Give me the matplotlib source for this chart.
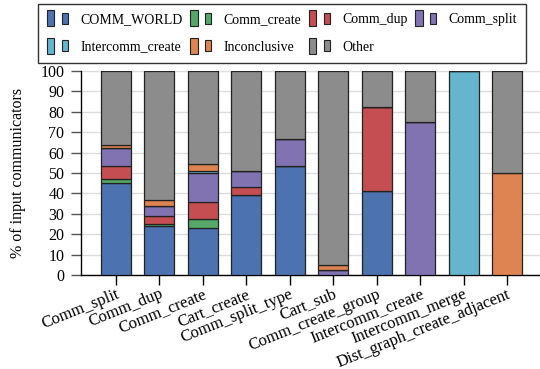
import matplotlib.pyplot as plt
import numpy as np
from matplotlib.legend_handler import HandlerBase
from matplotlib.patches import Rectangle

plt.rcParams['font.family'] = ['Liberation Serif', 'DejaVu Serif']

categories = ['Comm_split', 'Comm_dup', 'Comm_create', 'Cart_create', 'Comm_split_type',
              'Cart_sub', 'Comm_create_group', 'Intercomm_create', 'Intercomm_merge',
              'Dist_graph_create_adjacent']

comm_world = [45.0, 24.2, 22.9, 39.2, 53.3, 0, 41.2, 0, 0, 0]
comm_create = [2.0, 0.6, 4.7, 0, 0, 0, 0, 0, 0, 0]
comm_dup = [6.4, 4.3, 8.2, 3.9, 0, 0, 41.2, 0, 0, 0]
comm_split = [8.7, 4.9, 14.0, 7.9, 13.4, 2.3, 0, 75.0, 0, 0]
intercomm_create = [0, 0, 1.0, 0, 0, 0, 0, 0, 100.0, 0]
inconclusive = [1.5, 2.6, 3.4, 0, 0, 2.8, 0, 0, 0, 50.0]

series = [('COMM_WORLD', comm_world, '#4C72B0'),
          ('Comm_create', comm_create, '#55A868'),
          ('Comm_dup', comm_dup, '#C44E52'),
          ('Comm_split', comm_split, '#8172B2'),
          ('Intercomm_create', intercomm_create, '#64B5CD'),
          ('Inconclusive', inconclusive, '#DD8452')]
stacked = np.sum([s[1] for s in series], axis=0)
other = 100 - stacked
series.append(('Other', list(other), '#8C8C8C'))


class TwoBoxHandler(HandlerBase):
    # legend key drawn as a tall box followed by a short one
    def create_artists(self, legend, orig_handle, xdescent, ydescent,
                       width, height, fontsize, trans):
        fc = orig_handle.get_facecolor()
        big = Rectangle((-xdescent, -ydescent - 0.3 * height), 0.34 * width, 1.6 * height,
                        facecolor=fc, edgecolor='#222222', lw=0.8, transform=trans)
        small = Rectangle((-xdescent + 0.68 * width, -ydescent - 0.05 * height), 0.28 * width,
                          1.1 * height, facecolor=fc, edgecolor='#222222', lw=0.8,
                          transform=trans)
        return [big, small]


fig = plt.figure(figsize=(5.4, 3.69), dpi=100)
ax = fig.add_axes([81 / 540, 1 - 275 / 369, 1 - 81 / 540, 204 / 369])

x = np.arange(len(categories))
bottom = np.zeros(len(categories))
handles = []
for name, vals, color in series:
    bars = ax.bar(x, vals, width=0.69, bottom=bottom, color=color,
                  edgecolor='#222222', linewidth=0.9, label=name, zorder=3)
    bottom += np.array(vals)
    handles.append(bars[0])

ax.set_ylim(0, 100)
ax.set_xlim(-0.806, 9.76)
ax.set_yticks(range(0, 101, 10))
ax.grid(axis='y', color='#dddddd', linewidth=1, zorder=0)
ax.set_axisbelow(True)
for side in ['top', 'right']:
    ax.spines[side].set_visible(False)
ax.spines['left'].set_linewidth(1)
ax.spines['bottom'].set_linewidth(1)
ax.tick_params(axis='y', length=7, width=1, labelsize=11.5, pad=5, color='#555555')
ax.tick_params(axis='x', length=7, width=1, labelsize=12, pad=1)
ax.set_xticks(x)
ax.set_xticklabels(categories, rotation=22, ha='right', rotation_mode='anchor')
ax.set_ylabel('% of input communicators', fontsize=11.5, labelpad=10)

# row-major order for a 2 x 4 legend
order = [0, 4, 1, 5, 2, 6, 3]
leg_handles = [handles[i] for i in order]
leg_labels = [series[i][0] for i in order]
fig.legend(leg_handles, leg_labels, ncol=4,
           handler_map={h: TwoBoxHandler() for h in handles},
           loc='upper left', bbox_to_anchor=(38 / 540, 1 - 4 / 369),
           frameon=True, fancybox=False, edgecolor='#333333', framealpha=1,
           fontsize=10, handlelength=1.55, handletextpad=0.85, columnspacing=0.55,
           labelspacing=1.05, borderpad=0.65, borderaxespad=0)

fig.savefig('out.png', dpi=100)
